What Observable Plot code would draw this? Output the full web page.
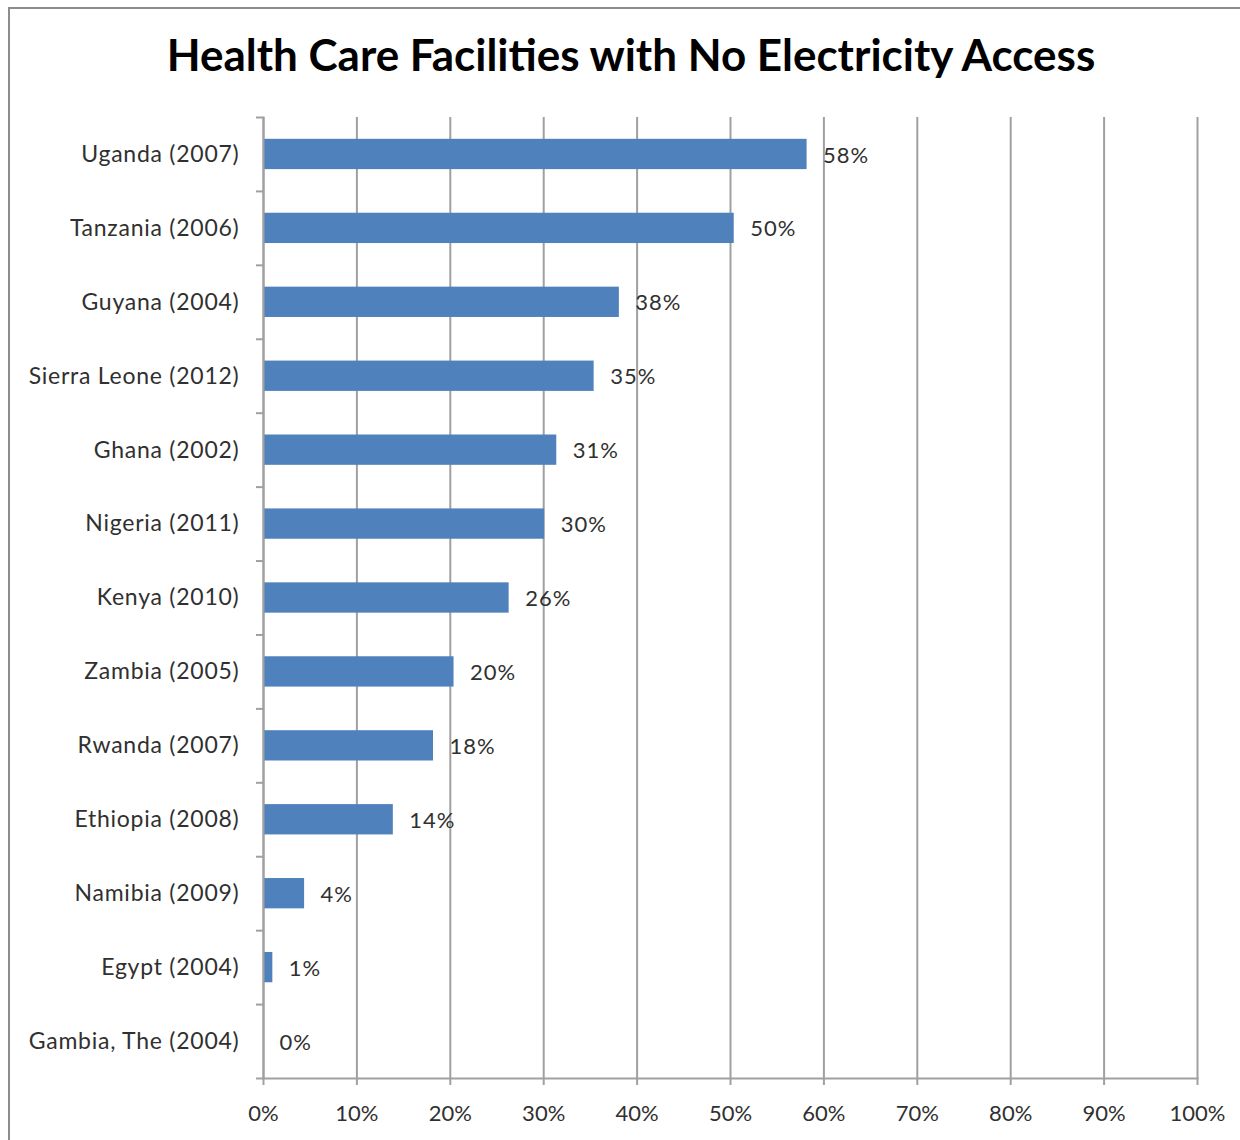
<!DOCTYPE html>
<html><head><meta charset="utf-8">
<script src="https://cdn.jsdelivr.net/npm/d3@7"></script>
<script src="https://cdn.jsdelivr.net/npm/@observablehq/plot@0.6"></script>
<style>
html,body{margin:0;padding:0;background:#fff;overflow:hidden;width:1240px;height:1140px;position:relative}
#frame{position:absolute;left:8px;top:7px;width:1300px;height:1200px;border:2px solid #8c8c8c;box-sizing:border-box}
#title{position:absolute;left:0;width:1262px;text-align:center;font-family:Lato,"Open Sans",sans-serif;font-weight:bold;color:#000;white-space:nowrap;line-height:1}
#chart{position:absolute;left:0;top:100px}
#chart g[aria-label="y-axis tick label"] text{letter-spacing:0.75px}
#chart g[aria-label="text"] text{letter-spacing:1px}
</style>
</head><body>
<div id="frame"></div>
<div id="title"></div>
<div id="chart"></div>
<script>
const titleText = "Health Care Facilities with No Electricity Access";
const countries = ["Uganda (2007)", "Tanzania (2006)", "Guyana (2004)", "Sierra Leone (2012)", "Ghana (2002)", "Nigeria (2011)", "Kenya (2010)", "Zambia (2005)", "Rwanda (2007)", "Ethiopia (2008)", "Namibia (2009)", "Egypt (2004)", "Gambia, The (2004)"];
const values = [58.2, 50.4, 38.1, 35.4, 31.4, 30.1, 26.3, 20.4, 18.2, 13.9, 4.4, 1.0, 0];
const xTicks = [0, 10, 20, 30, 40, 50, 60, 70, 80, 90, 100];

const data = countries.map((c, i) => ({country: c, value: values[i]}));

// title sizing
const fontFam = 'Lato, "Open Sans", sans-serif';
const cv = document.createElement("canvas").getContext("2d");
cv.font = `bold 40px ${fontFam}`;
const w40 = cv.measureText(titleText).width;
const fs = 40 * 932 / w40;
const t = document.getElementById("title");
t.textContent = titleText;
t.style.fontSize = fs + "px";
t.style.top = (72 - 0.887 * fs) + "px";

const W = 1240, H = 1040, mt = 17, mb = 62, ml = 263, mr = 43;
const step = (H - mt - mb) / countries.length;
const gray = "#a0a0a0";
const txt = "#303030";

const chart = Plot.plot({
  width: W, height: H,
  marginTop: mt, marginBottom: mb, marginLeft: ml, marginRight: mr,
  style: {fontFamily: fontFam, background: "transparent"},
  x: {domain: [0, 100]},
  y: {domain: countries, paddingInner: 0.59, paddingOuter: 0.295, round: false},
  marks: [
    Plot.gridX(xTicks, {stroke: gray, strokeOpacity: 1, strokeWidth: 2}),
    Plot.barX(data, {x: "value", y: "country", fill: "#4f81bd"}),
    Plot.text(data, {x: "value", y: "country", text: d => Math.round(d.value) + "%", textAnchor: "start", dx: 16, dy: 1, fontSize: 22, fill: txt}),
    Plot.frame({anchor: "left", stroke: gray, strokeWidth: 2}),
    Plot.frame({anchor: "bottom", stroke: gray, strokeWidth: 2}),
    Plot.axisX(xTicks, {tickFormat: d => d + "%", tickSize: 7, tickPadding: 20, fontSize: 22, stroke: gray, strokeWidth: 2, fill: txt, label: null}),
    Plot.axisY({tickSize: 0, tickPadding: 24, fontSize: 23, fill: txt, label: null}),
    Plot.axisY({tickSize: 7, tickFormat: () => "", dy: -step / 2, stroke: gray, strokeWidth: 2, label: null}),
    Plot.axisY([countries[countries.length - 1]], {tickSize: 7, tickFormat: () => "", dy: step / 2, stroke: gray, strokeWidth: 2, label: null})
  ]
});
document.getElementById("chart").appendChild(chart);
</script>
</body></html>
